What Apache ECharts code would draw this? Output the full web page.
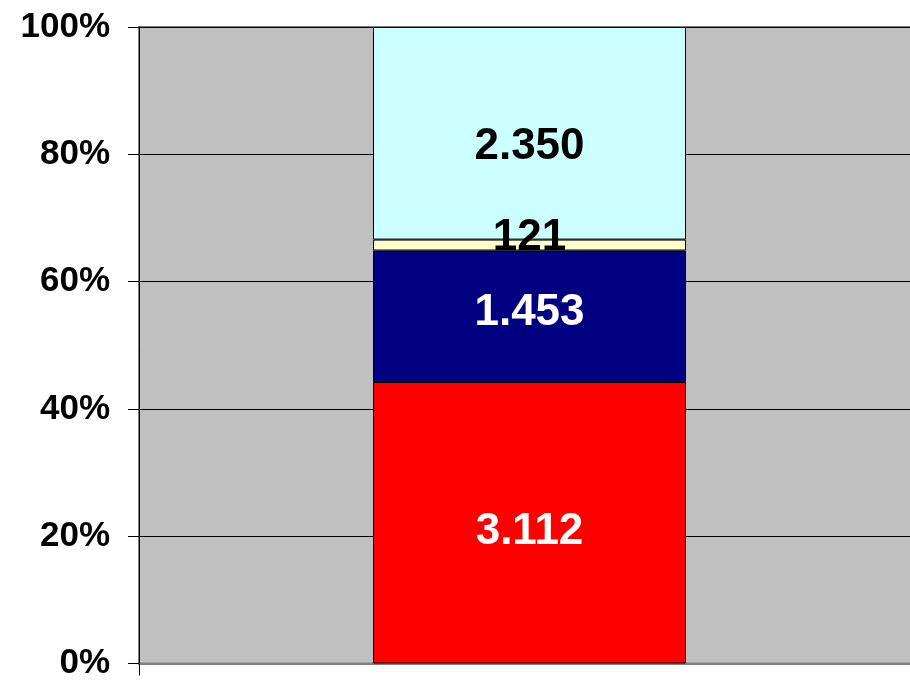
<!DOCTYPE html>
<html>
<head>
<meta charset="utf-8">
<script src="https://cdn.jsdelivr.net/npm/echarts@6/dist/echarts.min.js"></script>
<style>
    html, body { margin: 0; padding: 0; background: #fff; overflow: hidden; }
    /* plot runs past the right edge, like the original clipped picture */
    #chart { width: 920px; height: 681px; }
</style>
</head>
<body>
<div id="chart"></div>
<script>
const categories = [''];
const seriesNames = ['Teil 1', 'Teil 2', 'Teil 3', 'Teil 4'];
const seriesValues = [3112, 1453, 121, 2350];
const seriesColors = ['#FF0000', '#000080', '#FFFFCC', '#CCFFFF'];
const labelColors = ['#FFFFFF', '#FFFFFF', '#000000', '#000000'];
const labelOffsets = [[0, 9], [0, -3], [0, -7], [0, 14]];
const yTicks = [0, 20, 40, 60, 80, 100];

let StackChart = (function () {
    let chart = echarts.init(document.getElementById('chart'));

    let _init = function () {
        load_chart();
    };

    // 1.453 style, dot as thousands separator
    let fmt = function (v) {
        return String(v).replace(/\B(?=(\d{3})+(?!\d))/g, '.');
    };

    let load_chart = function () {
        let total = seriesValues.reduce((a, b) => a + b, 0);
        let series = seriesNames.map((name, i) => ({
            name: name,
            type: 'bar',
            stack: 'total',
            barWidth: 313,
            data: [{
                value: seriesValues[i] / total * 100,
                raw: seriesValues[i]
            }],
            itemStyle: {
                color: seriesColors[i],
                borderColor: '#000',
                borderWidth: 1
            },
            label: {
                show: true,
                position: 'inside',
                offset: labelOffsets[i],
                color: labelColors[i],
                fontFamily: 'Liberation Sans',
                fontWeight: 'bold',
                fontSize: 44,
                formatter: function (p) {
                    return fmt(p.data.raw);
                }
            }
        }));

        let option = {
            animation: false,
            grid: {
                left: 139,
                top: 27,
                bottom: 17,
                right: 0,
                show: true,
                backgroundColor: '#C0C0C0',
                borderColor: '#808080',
                borderWidth: 2
            },
            xAxis: {
                type: 'category',
                data: categories,
                axisLine: { lineStyle: { color: '#808080', width: 2 } },
                axisTick: { show: true, length: 12, lineStyle: { color: '#000', width: 1 } },
                axisLabel: { show: false }
            },
            yAxis: {
                type: 'value',
                min: yTicks[0],
                max: yTicks[yTicks.length - 1],
                interval: 20,
                axisLine: { show: true, lineStyle: { color: '#000', width: 1 } },
                axisTick: { show: true, length: 11, lineStyle: { color: '#000', width: 1 } },
                splitLine: { show: true, lineStyle: { color: '#000', width: 1 } },
                axisLabel: {
                    margin: 29,
                    color: '#000',
                    fontFamily: 'Liberation Sans',
                    fontWeight: 'bold',
                    fontSize: 35,
                    formatter: '{value}%'
                }
            },
            series: series
        };
        chart.setOption(option);
    };

    return {
        init: _init,
    }
})();
StackChart.init();
</script>
</body>
</html>
